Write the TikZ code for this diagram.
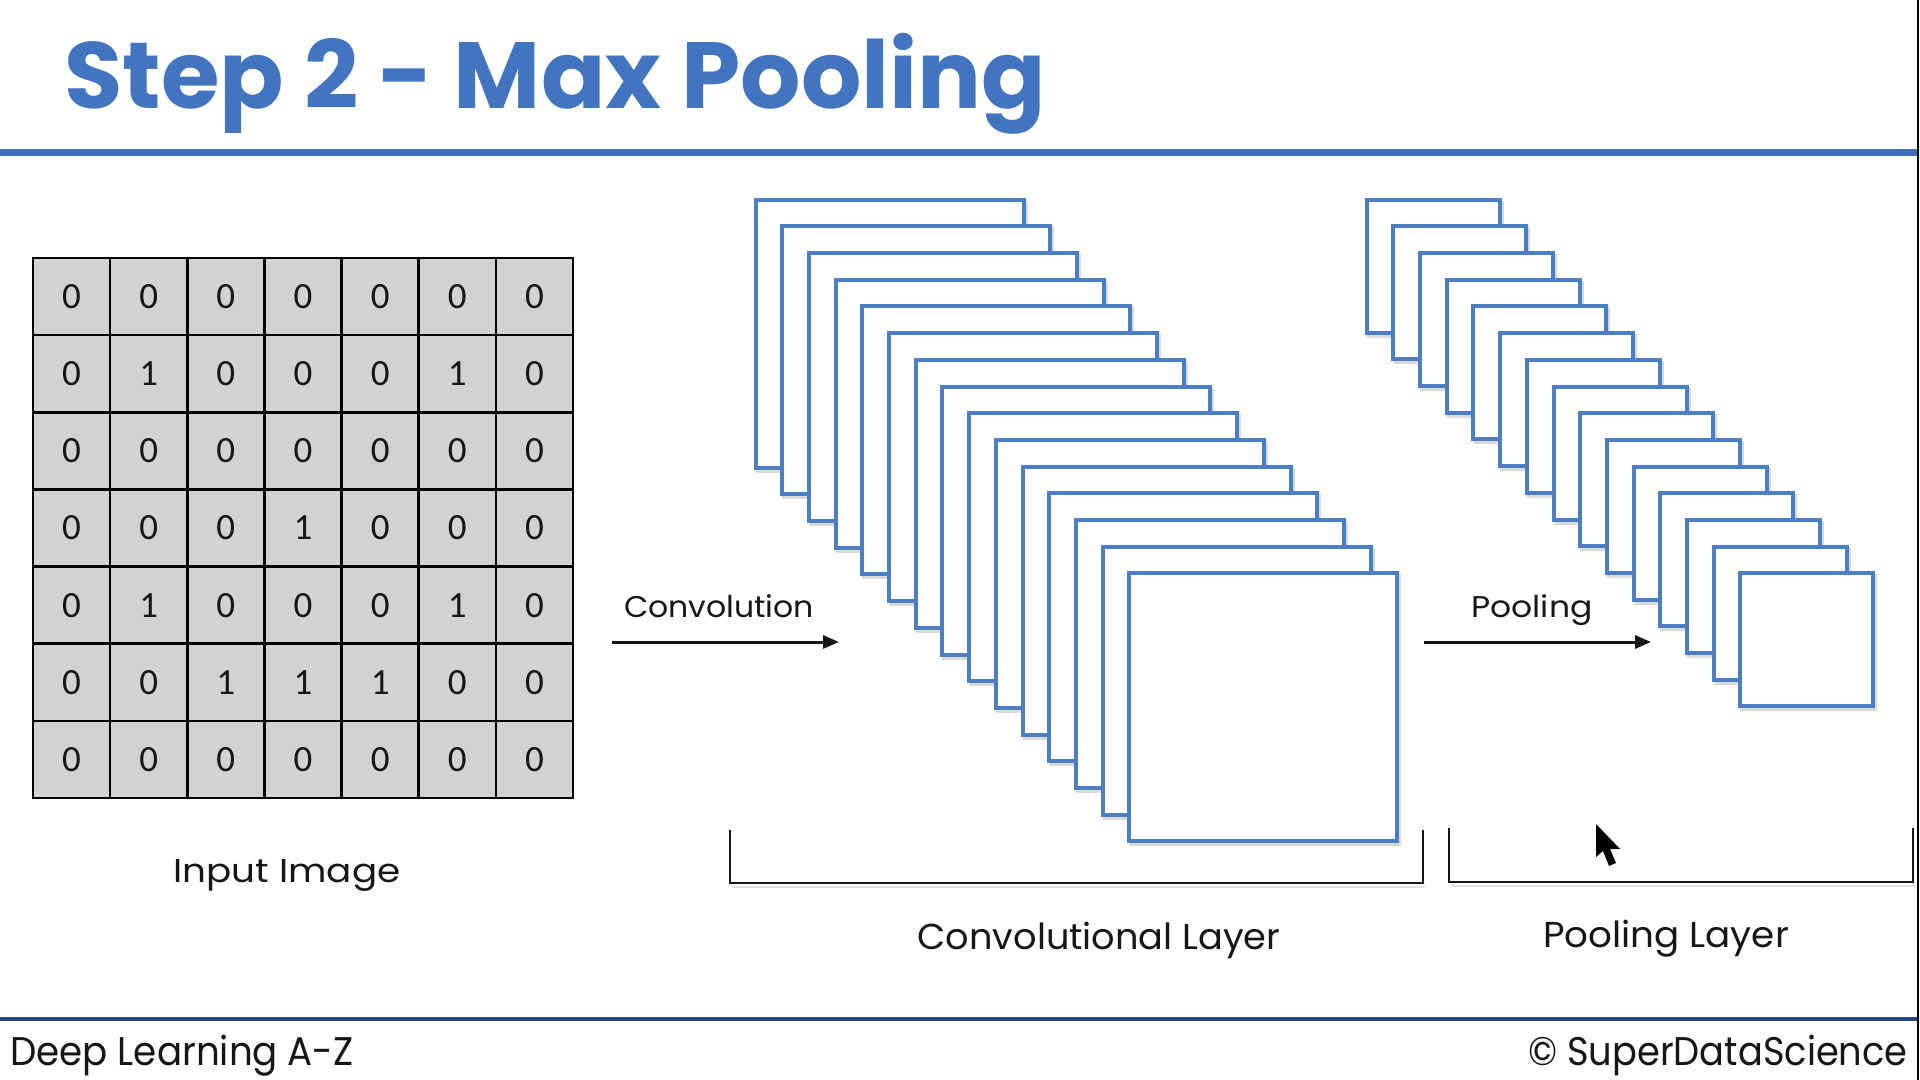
\documentclass[tikz,border=0pt]{standalone}
\usepackage{fontspec}
\setmainfont{Poppins}
\newfontfamily\digitfont{Carlito}
\usetikzlibrary{arrows.meta}
\definecolor{titleblue}{RGB}{66,116,192}
\definecolor{rulerblue}{RGB}{62,110,188}
\definecolor{mapblue}{RGB}{76,126,196}
\definecolor{cellgray}{RGB}{210,210,210}
\definecolor{navy}{RGB}{40,70,118}
\definecolor{ink}{RGB}{22,22,22}
\newcommand{\wide}[2]{\scalebox{#1}[1]{#2}}
\begin{document}
\begin{tikzpicture}[x=0.5pt,y=-0.5pt,
  cell/.style={draw=black, line width=1.25pt, fill=cellgray, minimum size=38.57pt, inner sep=0pt,
    font=\digitfont\fontsize{18.5}{20}\selectfont, text=ink},
  convmap/.style={draw=mapblue, line width=2pt, fill=white, minimum size=134pt, inner sep=0pt, anchor=north west},
  poolmap/.style={draw=mapblue, line width=2pt, fill=white, minimum size=66.5pt, inner sep=0pt, anchor=north west},
  mapshadow/.style={draw=black!15, line width=2pt},
  lbl/.style={font=\fontsize{15}{17}\selectfont, text=ink, anchor=base, inner sep=0pt},
  biglbl/.style={font=\fontsize{18}{20}\selectfont, text=ink, anchor=base, inner sep=0pt},
  foot/.style={font=\fontsize{20}{22}\selectfont, text=ink, inner sep=0pt},
  flow/.style={-{Triangle[length=8pt,width=6.5pt]}, line width=1.5pt, draw=ink},
  bracket/.style={line width=1.2pt, draw=ink},
  titletxt/.style={font=\bfseries\fontsize{47}{52}\selectfont, anchor=base west, inner sep=0pt},
]
% canvas
\fill[white] (0,0) rectangle (1920,1080);
\useasboundingbox (0,0) rectangle (1920,1080);

% title
\node[titletxt, text=titleblue] (title) at (64,109) {\wide{1.01}{Step 2 - Max Pooling}};

% header rule, footer rule, right border
\coordinate (hruleL) at (0,153);
\coordinate (hruleR) at (1918,153);
\draw[rulerblue, line width=3.5pt] (hruleL) -- (hruleR);
\coordinate (fruleL) at (0,1019);
\coordinate (fruleR) at (1918,1019);
\draw[navy, line width=1.6pt] (fruleL) -- (fruleR);
\coordinate (borderT) at (1918,0);
\coordinate (borderB) at (1918,1080);
\draw[black, line width=1pt] (borderT) -- (borderB);

% input image grid
\foreach \row [count=\r] in {{0,0,0,0,0,0,0},{0,1,0,0,0,1,0},{0,0,0,0,0,0,0},{0,0,0,1,0,0,0},{0,1,0,0,0,1,0},{0,0,1,1,1,0,0},{0,0,0,0,0,0,0}}{
  \foreach \v [count=\c] in \row {
    \node[cell] (cell-\r-\c) at ({33+77.14*(\c-0.5)},{258+77.14*(\r-0.5)}) {\v};
  }
}
\node[biglbl, font=\fontsize{16.5}{18}\selectfont] (inputlbl) at (287,882) {\wide{1.13}{Input Image}};

% convolution arrow
\coordinate (convA) at (612,642);
\coordinate (convB) at (839,642);
\draw[flow] (convA) -- (convB);
\node[lbl] (convlbl) at (719,617) {\wide{1.05}{Convolution}};

% convolutional layer stack
\foreach \i in {0,...,14}{
  \pgfmathsetmacro\cx{753.5+26.7*\i}
  \pgfmathsetmacro\cy{197.6+26.7*\i}
  \draw[mapshadow] (\cx+4,\cy+5) rectangle ++(268,268);
  \node[convmap] (conv\i) at (\cx,\cy) {};
}

% pooling arrow
\coordinate (poolA) at (1424,642);
\coordinate (poolB) at (1651,642);
\draw[flow] (poolA) -- (poolB);
\node[lbl] (poollbl) at (1532,617) {\wide{1.1}{Pooling}};

% pooling layer stack
\foreach \i in {0,...,14}{
  \pgfmathsetmacro\px{1364.6+26.7*\i}
  \pgfmathsetmacro\py{197.6+26.7*\i}
  \draw[mapshadow] (\px+4,\py+5) rectangle ++(133,133);
  \node[poolmap] (pool\i) at (\px,\py) {};
}

% brackets
\coordinate (cb1) at (730,830);
\coordinate (cb2) at (730,883);
\coordinate (cb3) at (1423,883);
\coordinate (cb4) at (1423,830);
\draw[black!12, line width=1.2pt] ([shift={(2,4)}]cb2) -- ([shift={(2,4)}]cb3);
\draw[bracket] (cb1) -- (cb2) -- (cb3) -- (cb4);
\coordinate (pb1) at (1449,828);
\coordinate (pb2) at (1449,882);
\coordinate (pb3) at (1913,882);
\coordinate (pb4) at (1913,828);
\draw[black!12, line width=1.2pt] ([shift={(2,4)}]pb2) -- ([shift={(2,4)}]pb3);
\draw[bracket] (pb1) -- (pb2) -- (pb3) -- (pb4);
\node[biglbl] (convlayer) at (1099,949) {\wide{1.02}{Convolutional Layer}};
\node[biglbl] (poollayer) at (1666,947) {\wide{1.035}{Pooling Layer}};

% mouse pointer
\fill[black] (1596,824) -- (1596,857) -- (1603,851) -- (1609,866) -- (1616,863) -- (1610,849) -- (1620,849) -- cycle;

% footer
\node[foot, anchor=base west] (footL) at (10,1065) {\wide{0.93}{Deep Learning A-Z}};
\node[foot, anchor=base east] (footR) at (1908,1065) {\wide{0.92}{© SuperDataScience}};
\end{tikzpicture}
\end{document}
